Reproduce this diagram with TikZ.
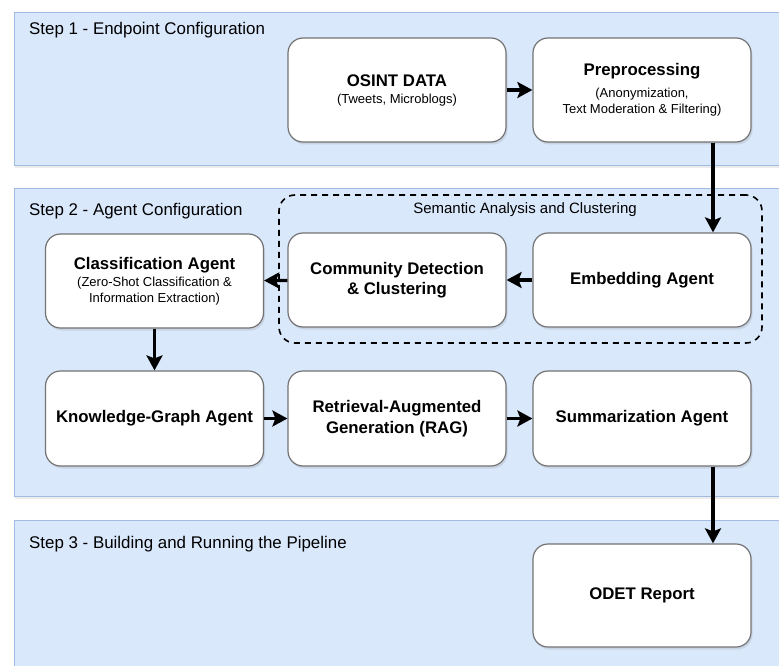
\documentclass[tikz,border=0pt]{standalone}
\usepackage{fontspec}
\setmainfont{Liberation Sans}
\usetikzlibrary{arrows.meta,shadows}

\definecolor{panelblue}{HTML}{DAE8FC}
\definecolor{paneledge}{HTML}{A2BBE2}
\newcommand{\boxfont}{\fontsize{16.8}{17}\selectfont\bfseries}
\newcommand{\notefont}{\fontsize{13}{16}\selectfont\mdseries}

\begin{document}
\begin{tikzpicture}[x=1pt, y=-1pt,
  panel/.style={draw=paneledge, line width=1pt, fill=panelblue,
    drop shadow={shadow xshift=1pt, shadow yshift=-3pt, opacity=0.15}},
  steplabel/.style={anchor=base west, inner sep=0pt, font=\fontsize{16.9}{20}\selectfont},
  agent/.style={draw=black!55, line width=1.2pt, fill=white, rounded corners=15pt,
    minimum width=218pt, align=center, inner sep=0pt, font=\boxfont,
    drop shadow={shadow xshift=1.5pt, shadow yshift=-2.5pt, opacity=0.2}},
  group/.style={draw, line width=1.6pt, dash pattern=on 6pt off 5pt, rounded corners=16pt,
    inner sep=0pt},
  arrow/.style={line width=3.2pt, -{Stealth[length=15pt, width=16pt, inset=3pt]}}]
  \clip (0,0) rectangle (779,666);

  % panels
  \draw[panel] (14,13) rectangle (790,165);
  \draw[panel] (14,188) rectangle (790,496);
  \draw[panel] (14,520) rectangle (790,680);
  \node[steplabel] (step1) at (29,35) {Step 1 - Endpoint Configuration};
  \node[steplabel] (step2) at (29,215) {Step 2 - Agent Configuration};
  \node[steplabel] (step3) at (29,548) {Step 3 - Building and Running the Pipeline};

  % semantic group
  \node[group, minimum width=483pt, minimum height=148pt] (sem) at (520.5,269) {};
  \node[anchor=base, inner sep=0pt, font=\fontsize{15}{18}\selectfont] (semlabel) at (525,213)
    {Semantic Analysis and Clustering};

  % agents
  \node[agent, minimum height=104pt] (osint) at (397,90)
    {OSINT DATA\\ \notefont (Tweets, Microblogs)};
  \node[agent, minimum height=104pt] (prep) at (642,90)
    {Preprocessing\\[5pt] \notefont (Anonymization,\\[-1pt] \notefont Text Moderation \& Filtering)};
  \node[agent, minimum height=94pt] (classif) at (154.5,281)
    {Classification Agent\\ \notefont (Zero-Shot Classification \&\\[-1pt] \notefont Information Extraction)};
  \node[agent, minimum height=94pt] (community) at (397,280)
    {Community Detection\\[3pt] \& Clustering};
  \node[agent, minimum height=94pt] (embed) at (642,280) {Embedding Agent};
  \node[agent, minimum height=95pt] (kg) at (154.5,418.5) {Knowledge-Graph Agent};
  \node[agent, minimum height=95pt] (rag) at (397,418.5)
    {Retrieval-Augmented\\[4pt] Generation (RAG)};
  \node[agent, minimum height=95pt] (summ) at (642,418.5) {Summarization Agent};
  \node[agent, minimum height=103pt] (odet) at (642,595.5) {ODET Report};

  % flow
  \coordinate (feed) at (713,0);
  \draw[arrow] (osint) -- (prep);
  \draw[arrow] (prep.south -| feed) -- (embed.north -| feed);
  \draw[arrow] (embed) -- (community);
  \draw[arrow] (community) -- (classif);
  \draw[arrow] (classif) -- (kg);
  \draw[arrow] (kg) -- (rag);
  \draw[arrow] (rag) -- (summ);
  \draw[arrow] (summ.south -| feed) -- (odet.north -| feed);
\end{tikzpicture}
\end{document}
